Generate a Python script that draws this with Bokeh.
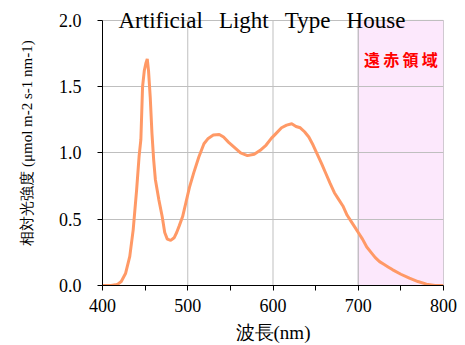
from bokeh.plotting import figure
from bokeh.models import Label, FixedTicker, PrintfTickFormatter, Range1d
from bokeh.embed import file_html
from bokeh.resources import INLINE

# Spectrum data (wavelength nm, relative intensity)
wavelength = [400, 410, 415, 418, 422, 427, 432, 436, 440, 443, 445, 447, 449, 451, 452.5,
              454, 456, 458, 460, 462, 466, 470, 473, 476, 480, 484, 487, 490, 494, 498,
              502, 507, 513, 519, 524, 530, 537, 542, 548, 555, 562, 570, 578, 585, 592,
              598, 604, 610, 616, 622, 627, 632, 637, 642, 647, 652, 657, 662, 667, 672,
              677, 682, 687, 692, 696, 700, 705, 710, 715, 720, 725, 730, 735, 740, 750,
              760, 770, 780, 790, 800]
intensity = [0.0, 0.0, 0.005, 0.01, 0.03, 0.09, 0.22, 0.42, 0.72, 0.98, 1.10, 1.50, 1.62, 1.68, 1.71,
             1.62, 1.42, 1.15, 0.95, 0.80, 0.65, 0.52, 0.40, 0.35, 0.34, 0.36, 0.40, 0.45, 0.52, 0.63,
             0.74, 0.85, 0.97, 1.07, 1.11, 1.135, 1.14, 1.12, 1.08, 1.04, 1.00, 0.98, 0.99, 1.02, 1.06,
             1.11, 1.15, 1.19, 1.21, 1.22, 1.20, 1.19, 1.16, 1.12, 1.06, 0.99, 0.92, 0.845, 0.77, 0.70,
             0.65, 0.60, 0.53, 0.48, 0.44, 0.40, 0.35, 0.29, 0.25, 0.21, 0.18, 0.16, 0.14, 0.12, 0.085,
             0.055, 0.03, 0.01, 0.0, 0.0]

x_ticks = [400, 500, 600, 700, 800]
x_minor = [450, 550, 650, 750]
y_ticks = [0.0, 0.5, 1.0, 1.5, 2.0]
far_red_start, far_red_end = 700, 800
far_red_label = "遠\u2009赤\u2009領\u2009域"
title_text = "Artificial\u2002\u2009Light\u2002\u2009Type\u2002\u2009House"

serif = "Liberation Serif"
y_min, y_max = y_ticks[0], y_ticks[-1]

# frame extends to the top of the canvas so the title (drawn over the plot top) is not clipped
p = figure(width=465, height=345, output_backend="svg", toolbar_location=None,
           x_range=Range1d(400, 800), y_range=Range1d(y_min, y_max * 286 / 266),
           min_border_left=102, min_border_right=22, min_border_top=0, min_border_bottom=59)

p.background_fill_color = "white"
p.border_fill_color = "white"
p.outline_line_color = None

# far-red region
p.quad(left=[far_red_start], right=[far_red_end], bottom=[y_min], top=[y_max],
       fill_color="#FCE8FC", line_color="#C4AEC8", line_width=1, level="underlay")

# vertical grid lines (bounded to the data area)
p.xgrid.visible = False
p.segment(x0=x_ticks[1:], y0=[y_min] * 4, x1=x_ticks[1:], y1=[y_max] * 4,
          line_color="#BFBFBF", line_width=1, level="underlay")
p.ygrid.grid_line_color = "#BFBFBF"
p.ygrid.ticker = FixedTicker(ticks=y_ticks)

p.line(wavelength, intensity, line_color="#FF9966", line_width=3)

# axes
p.xaxis.ticker = FixedTicker(ticks=x_ticks, minor_ticks=x_minor)
p.yaxis.ticker = FixedTicker(ticks=y_ticks)
p.yaxis.formatter = PrintfTickFormatter(format="%.1f")
p.yaxis.bounds = (y_min, y_max)
for ax in (p.xaxis[0], p.yaxis[0]):
    ax.axis_line_color = "black"
    ax.major_tick_line_color = "black"
    ax.minor_tick_line_color = "black"
    ax.major_tick_in = 0
    ax.major_tick_out = 5
    ax.minor_tick_in = 0
    ax.minor_tick_out = 5
    ax.major_label_text_font = serif
    ax.major_label_text_font_size = "18px"
    ax.major_label_text_color = "black"
    ax.axis_label_text_font = serif
    ax.axis_label_text_font_style = "normal"
    ax.axis_label_text_color = "black"
p.yaxis.minor_tick_out = 0
p.xaxis.axis_label = "波長(nm)"
p.xaxis.axis_label_text_font_size = "19px"
p.xaxis.major_label_standoff = 8
p.xaxis.axis_label_standoff = 7
p.yaxis.axis_label = "相対光強度 (μmol m-2 s-1 nm-1)"
p.yaxis.axis_label_text_font_size = "15px"
p.yaxis.major_label_standoff = 16
p.yaxis.axis_label_standoff = 21

p.add_layout(Label(x=(far_red_start + far_red_end) / 2, y=1.71, text=far_red_label,
                   text_align="center", text_baseline="middle", text_color="#FF0000",
                   text_font="Noto Sans CJK JP", text_font_style="bold", text_font_size="16px"))

p.add_layout(Label(x=587, y=2.0, text=title_text, text_align="center",
                   text_baseline="alphabetic", text_color="black",
                   text_font="Liberation Serif", text_font_size="23px"))

open("out.html", "w").write(file_html(p, INLINE))
